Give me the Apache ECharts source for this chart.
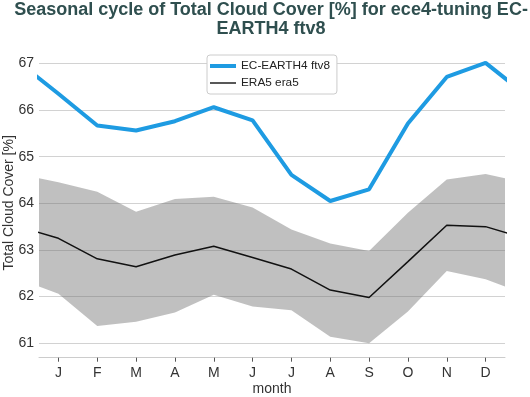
<!DOCTYPE html>
<html>
<head>
<meta charset="utf-8">
<script src="https://cdn.jsdelivr.net/npm/echarts@6/dist/echarts.min.js"></script>
<style>
html,body{margin:0;padding:0;background:#fff;}
#chart{width:530px;height:397px;}
</style>
</head>
<body>
<div id="chart"></div>
<script>
// Month tick labels and positions
const monthLabels = ['J','F','M','A','M','J','J','A','S','O','N','D'];
const monthPos = [1,2,3,4,5,6,7,8,9,10,11,12];
const yTicks = [61,62,63,64,65,66,67];

// Monthly values (Jan..Dec)
const modelVals = [66.35, 65.67, 65.56, 65.76, 66.06, 65.78, 64.61, 64.05, 64.30, 65.71, 66.71, 67.01];
const era5Vals  = [63.25, 62.81, 62.64, 62.89, 63.08, 62.84, 62.59, 62.14, 61.98, 62.75, 63.53, 63.50];
const era5Upper = [64.45, 64.25, 63.82, 64.09, 64.14, 63.91, 63.44, 63.14, 62.98, 63.80, 64.51, 64.63];
const era5Lower = [62.06, 61.37, 61.46, 61.66, 62.04, 61.79, 61.71, 61.14, 61.00, 61.68, 62.55, 62.37];

// cyclic extension: Dec at month 0, Jan at month 13
function cyc(arr){
  const out = [[0, arr[11]]];
  arr.forEach((v,i)=>out.push([monthPos[i], v]));
  out.push([13, arr[0]]);
  return out;
}
const lowerC = cyc(era5Lower);
const upperC = cyc(era5Upper);
const bandData = lowerC.map((p,i)=>[p[0], p[1], upperC[i][1]]);

const chart = echarts.init(document.getElementById('chart'), null, {renderer:'canvas'});
const font = '"Liberation Sans", Arial, sans-serif';
chart.setOption({
  animation:false,
  backgroundColor:'#fff',
  graphic:[{
    type:'text', x:271, y:0.5, z:10,
    style:{
      text:'Seasonal cycle of Total Cloud Cover [%] for ece4-tuning EC-\nEARTH4 ftv8',
      align:'center', verticalAlign:'top',
      font:'bold 18px "Liberation Sans", Arial, sans-serif',
      lineHeight:19, fill:'#2f4f4f'
    }
  }],
  legend:{
    data:[
      {name:'EC-EARTH4 ftv8', icon:'path://M0,0 L0,0 M0,5 L26,5 L26,9 L0,9 Z M26,14 L26,14'},
      {name:'ERA5 era5', icon:'path://M0,0 L0,0 M0,6.3 L26,6.3 L26,7.7 L0,7.7 Z M26,14 L26,14'}
    ],
    orient:'vertical', left:207, top:55,
    itemWidth:26, itemHeight:14, itemGap:3,
    padding:[4,7,4,3],
    borderColor:'#cccccc', borderWidth:1, borderRadius:3,
    backgroundColor:'#fff',
    textStyle:{fontFamily:font, fontSize:11.8, color:'#222'}
  },
  grid:{left:39, right:25, top:48, bottom:39.3, containLabel:false, outerBoundsMode:'none'},
  xAxis:{
    type:'value', min:0.5, max:12.5,
    name:'month', nameLocation:'middle', nameGap:24, nameMoveOverlap:false,
    nameTextStyle:{fontFamily:font, fontSize:14, color:'#333'},
    axisLine:{show:true, onZero:false, lineStyle:{color:'#cccccc', width:1}},
    axisTick:{show:true, customValues:monthPos, length:4, lineStyle:{color:'#555'}},
    axisLabel:{customValues:monthPos, fontFamily:font, fontSize:14, color:'#333', margin:8,
      formatter:(v)=>monthLabels[Math.round(v)-1] || ''},
    splitLine:{show:false}
  },
  yAxis:{
    type:'value', min:60.69, max:67.33,
    name:'Total Cloud Cover [%]', nameLocation:'middle', nameGap:23, nameMoveOverlap:false,
    nameTextStyle:{fontFamily:font, fontSize:14, color:'#333'},
    axisLine:{show:false},
    axisTick:{show:false, customValues:yTicks},
    axisLabel:{customValues:yTicks, fontFamily:font, fontSize:14, color:'#333', margin:5},
    splitLine:{show:true, lineStyle:{color:'#d2d2d2', width:1.2}}
  },
  series:[
    {name:'band', type:'custom', data:bandData, silent:true, z:1,
     encode:{x:0, y:[1,2]},
     renderItem:function(params, api){
       if (params.dataIndex !== 0) return;
       const lo = [], hi = [];
       for (let i=0;i<bandData.length;i++){
         lo.push(api.coord([bandData[i][0], bandData[i][1]]));
         hi.push(api.coord([bandData[i][0], bandData[i][2]]));
       }
       const pts = lo.concat(hi.reverse());
       return {type:'polygon', shape:{points:pts},
         style:{fill:'rgba(110,110,110,0.43)'},
         clipPath:{type:'rect', shape:{x:params.coordSys.x, y:params.coordSys.y, width:params.coordSys.width, height:params.coordSys.height}}};
     }},
    {name:'EC-EARTH4 ftv8', type:'line', data:cyc(modelVals), showSymbol:false, symbol:'none',
     color:'#1e9be2', lineStyle:{color:'#1e9be2', width:4}, z:4},
    {name:'ERA5 era5', type:'line', data:cyc(era5Vals), showSymbol:false, symbol:'none',
     color:'#111', lineStyle:{color:'#111', width:1.5}, z:3}
  ]
});
</script>
</body>
</html>
